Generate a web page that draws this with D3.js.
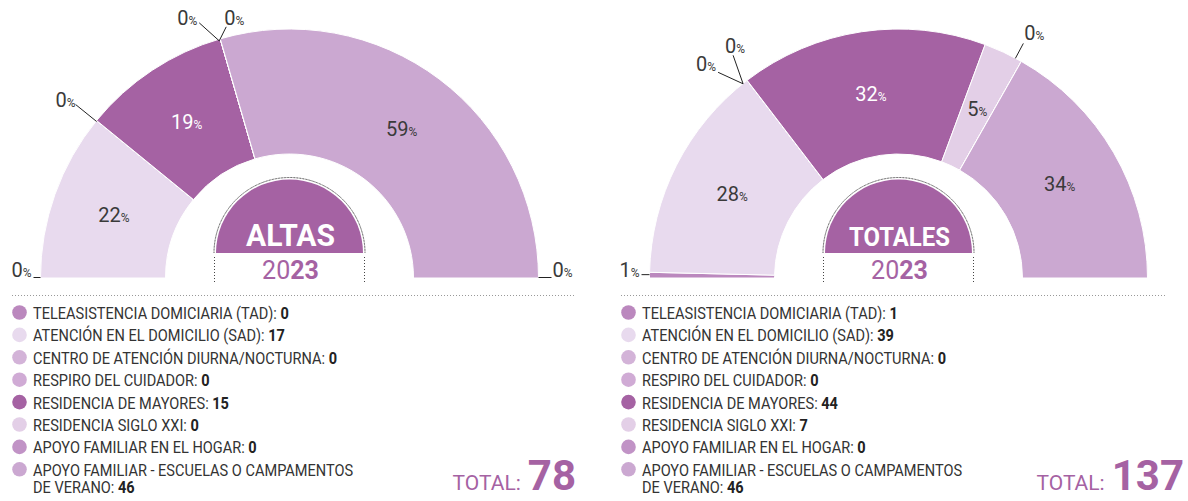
<!DOCTYPE html>
<html><head><meta charset="utf-8">
<script src="https://cdn.jsdelivr.net/npm/d3@7"></script>
<style>body{margin:0;background:#fff;} svg{display:block;font-family:Roboto,"Noto Sans",sans-serif}</style>
</head><body><svg id="c" width="1188" height="501"></svg>
<script>
const categories = [
  "TELEASISTENCIA DOMICIARIA (TAD)",
  "ATENCIÓN EN EL DOMICILIO (SAD)",
  "CENTRO DE ATENCIÓN DIURNA/NOCTURNA",
  "RESPIRO DEL CUIDADOR",
  "RESIDENCIA DE MAYORES",
  "RESIDENCIA SIGLO XXI",
  "APOYO FAMILIAR EN EL HOGAR",
  "APOYO FAMILIAR - ESCUELAS O CAMPAMENTOS DE VERANO"
];
const altasValues   = [0, 17, 0, 0, 15, 0, 0, 46];
const totalesValues = [1, 39, 0, 0, 44, 7, 0, 46];
const chartTitles = ["ALTAS", "TOTALES"];
const yearParts = ["20", "23"];
const totalLabel = "TOTAL:";
const categoryColors = ["#bb88be", "#e8daee", "#d3b3d8", "#d0abd5", "#a562a3", "#e3cfe7", "#c193c6", "#cba8d1"];

const PURPLE = "#a562a3";
const svg = d3.select("#c");
const cy = 278, rOut = 249, rIn = 124;

const charts = [
  {title: chartTitles[0], values: altasValues, cx: 289.5, legX: 12, dotX2: 575, totalRight: 576, titleSize: 32, titleSx: 0.94},
  {title: chartTitles[1], values: totalesValues, cx: 898.5, legX: 621, dotX2: 1166, totalRight: 1184, titleSize: 26, titleSx: 0.92}
];

// label placement (code-side layout)
const layouts = [
  {
    0: {at: "start", from: [0, -0.5], to: [-7, -0.5], text: [-9, -1], anchor: "end"},
    2: {at: "start", from: [0, 1], to: [-21, -16], text: [-21, -14], anchor: "end"},
    3: {at: "chartEnd", from: [0, -0.5], to: [13, -0.5], text: [14, -1], anchor: "start"},
    5: {at: "start", from: [-1, 2], to: [-21, -16], text: [-23, -14], anchor: "end"},
    6: {at: "start", from: [-1, 2], to: [6, -12], text: [4, -14], anchor: "start"}
  },
  {
    0: {at: "mid", from: [0, -0.5], to: [-8, -0.5], text: [-10, 2], anchor: "end"},
    2: {at: "start", from: [-4, 3.5], to: [-29, -8], text: [-31, -9], anchor: "end"},
    3: {at: "start", from: [-4, 3.5], to: [-14, -25], text: [-12, -27], anchor: "middle"},
    6: {at: "start", from: [-6, -3], to: [2, -18], text: [3, -21], anchor: "start"}
  }
];

const pie = d3.pie().sort(null).value(d => d).startAngle(-Math.PI / 2).endAngle(Math.PI / 2);
const arc = d3.arc().innerRadius(rIn).outerRadius(rOut);

function pctText(sel, pct, color) {
  sel.append("tspan").attr("font-size", 20).attr("fill", color).text(pct);
  sel.append("tspan").attr("font-size", 12).attr("fill", color).text("%");
}

charts.forEach((ch, ci) => {
  const total = d3.sum(ch.values);
  const g = svg.append("g").attr("transform", `translate(${ch.cx},${cy})`);
  const arcs = pie(ch.values);

  g.selectAll("path.seg").data(arcs).join("path")
    .attr("class", "seg")
    .attr("d", arc)
    .attr("fill", (d, i) => categoryColors[i])
    .attr("stroke", "#fff").attr("stroke-width", 1);

  const lay = layouts[ci];
  arcs.forEach((d, i) => {
    const pct = Math.round(d.value / total * 100);
    const L = lay[i];
    if (!L) {
      const [x, y] = arc.centroid(d);
      const t = g.append("text").attr("x", x).attr("y", y + 7).attr("text-anchor", "middle");
      pctText(t, pct, i === 4 ? "#fff" : "#3a3a3a");
      return;
    }
    let a = L.at === "start" ? d.startAngle : L.at === "chartEnd" ? Math.PI / 2 : (d.startAngle + d.endAngle) / 2;
    const px = rOut * Math.sin(a), py = -rOut * Math.cos(a);
    g.append("line")
      .attr("x1", px + L.from[0]).attr("y1", py + L.from[1])
      .attr("x2", px + L.to[0]).attr("y2", py + L.to[1])
      .attr("stroke", "#222").attr("stroke-width", 1);
    const t = g.append("text").attr("x", px + L.text[0]).attr("y", py + L.text[1]).attr("text-anchor", L.anchor);
    pctText(t, pct, "#3a3a3a");
  });

  // center badge
  const bcy = 253 - cy;
  g.append("path")
    .attr("d", d3.arc().innerRadius(0).outerRadius(73.5).startAngle(-Math.PI / 2).endAngle(Math.PI / 2)())
    .attr("transform", `translate(0,${bcy})`)
    .attr("fill", PURPLE);
  g.append("path")
    .attr("d", d3.arc().innerRadius(75.5).outerRadius(75.5).startAngle(-Math.PI / 2).endAngle(Math.PI / 2)())
    .attr("transform", `translate(0,${bcy})`)
    .attr("fill", "none").attr("stroke", "#444").attr("stroke-width", 1).attr("stroke-dasharray", "1,2");
  [-75, 75].forEach(dx => {
    g.append("line").attr("x1", dx).attr("x2", dx).attr("y1", 257 - cy).attr("y2", 284 - cy)
      .attr("stroke", "#444").attr("stroke-dasharray", "1,2");
  });
  g.append("text")
    .attr("transform", `translate(1,${246 - cy}) scale(${ch.titleSx},1)`)
    .attr("text-anchor", "middle").attr("font-weight", 700).attr("font-size", ch.titleSize)
    .attr("fill", "#fff").text(ch.title);
  const yt = g.append("text").attr("x", 1).attr("y", 279 - cy).attr("text-anchor", "middle")
    .attr("font-size", 25).attr("fill", PURPLE);
  yt.append("tspan").text(yearParts[0]);
  yt.append("tspan").attr("font-weight", 700).text(yearParts[1]);

  // dotted separator
  svg.append("line").attr("x1", ch.legX).attr("x2", ch.dotX2).attr("y1", 295.5).attr("y2", 295.5)
    .attr("stroke", "#999").attr("stroke-width", 1).attr("stroke-dasharray", "1,2");

  // legend
  const rowY = d3.scaleLinear().domain([0, 1]).range([319, 341.4]);
  categories.forEach((name, i) => {
    const base = rowY(i);
    svg.append("circle").attr("cx", ch.legX + 7.5).attr("cy", base - 6.5).attr("r", 7.3)
      .attr("fill", categoryColors[i]);
    let lines = [name];
    if (name.length > 40) {
      const cut = name.lastIndexOf(" ", 40);
      lines = [name.slice(0, cut), name.slice(cut + 1)];
    }
    lines.forEach((ln, li) => {
      const t = svg.append("text")
        .attr("transform", `translate(${ch.legX + 21},${base + li * 17.5}) scale(0.91,1)`)
        .attr("font-size", 16).attr("fill", "#333");
      t.append("tspan").text(li === lines.length - 1 ? ln + ": " : ln);
      if (li === lines.length - 1) t.append("tspan").attr("font-weight", 700).attr("fill", "#222").text(ch.values[i]);
    });
  });

  // total
  const tt = svg.append("text").attr("x", ch.totalRight).attr("y", 490).attr("text-anchor", "end").attr("fill", PURPLE);
  tt.append("tspan").attr("font-size", 21).text(totalLabel);
  tt.append("tspan").attr("dx", 7).attr("font-size", 42).attr("font-weight", 700).text(total);
});
</script>
</body></html>
